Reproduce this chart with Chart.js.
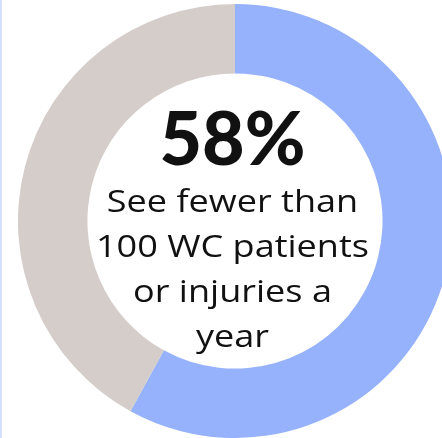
<!DOCTYPE html>
<html>
<head>
<meta charset="utf-8">
<script src="https://cdn.jsdelivr.net/npm/chart.js@4"></script>
<style>
html,body{margin:0;padding:0;background:#fff;overflow:hidden;width:442px;height:438px;}
#wrap{position:absolute;left:0;top:0;width:470px;height:438px;}
#edge{position:absolute;left:0;top:0;width:2px;height:438px;background:#d4e0ff;}
</style>
</head>
<body>
<div id="wrap"><canvas id="c"></canvas></div>
<div id="edge"></div>
<script>
const categories = ["See fewer than 100 WC patients or injuries a year", "Other"];
const values = [58, 42];
const colors = ["#97b2fc", "#d5cdc9"];
const headline = "58%";
const captionLines = ["See fewer than", "100 WC patients", "or injuries a", "year"];

function stretchText(ctx, text, x, y, targetW) {
  const w = ctx.measureText(text).width;
  const s = targetW / w;
  ctx.save();
  ctx.translate(x, y);
  ctx.scale(s, 1);
  ctx.fillText(text, 0, 0);
  ctx.restore();
}

const centerText = {
  id: 'centerText',
  afterDraw(chart) {
    const ctx = chart.ctx;
    const meta = chart.getDatasetMeta(0).data[0];
    const cx = meta.x - 2.5;
    ctx.save();
    ctx.fillStyle = '#111';
    ctx.textAlign = 'center';
    ctx.textBaseline = 'alphabetic';
    ctx.font = '900 74px Lato';
    stretchText(ctx, headline, cx, 165, 146);
    ctx.font = '400 31px "Open Sans"';
    const base = [212, 257, 302, 347];
    const s = 273 / ctx.measureText(captionLines[1]).width;
    captionLines.forEach((t, i) => stretchText(ctx, t, cx, base[i], ctx.measureText(t).width * s));
    ctx.restore();
  }
};

new Chart(document.getElementById('c'), {
  type: 'doughnut',
  data: {
    labels: categories,
    datasets: [{ data: values, backgroundColor: colors, borderWidth: 0 }]
  },
  options: {
    responsive: true,
    maintainAspectRatio: false,
    animation: false,
    cutout: '68%',
    layout: { padding: { top: 4, bottom: 0, left: 0, right: 0 } },
    plugins: { legend: { display: false }, tooltip: { enabled: false } }
  },
  plugins: [centerText]
});
</script>
</body>
</html>
